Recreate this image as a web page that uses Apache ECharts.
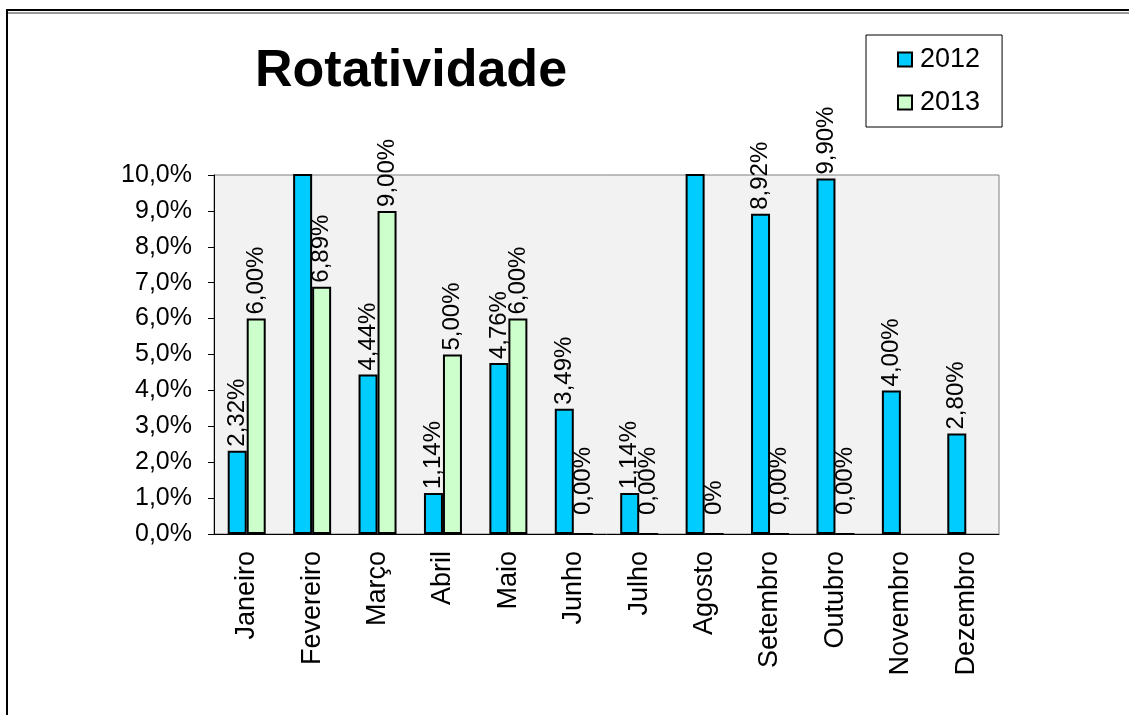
<!DOCTYPE html>
<html>
<head>
<meta charset="utf-8">
<script src="https://cdn.jsdelivr.net/npm/echarts@6/dist/echarts.min.js"></script>
<style>
html, body { margin: 0; padding: 0; background: #fff; }
#chart { width: 1129px; height: 715px; }
</style>
</head>
<body>
<div id="chart"></div>
<script>
var meses = ['Janeiro', 'Fevereiro', 'Março', 'Abril', 'Maio', 'Junho', 'Julho', 'Agosto', 'Setembro', 'Outubro', 'Novembro', 'Dezembro'];
// 2012: Fevereiro and Agosto run off the top of the axis, their labels are not shown
var v2012 = [2.32, 12.0, 4.44, 1.14, 4.76, 3.49, 1.14, 11.0, 8.92, 9.90, 4.00, 2.80];
var v2013 = [6.00, 6.89, 9.00, 5.00, 6.00, 0, 0, 0, 0, 0, null, null];
var rot2013 = ['6,00%', '6,89%', '9,00%', '5,00%', '6,00%', '0,00%', '0,00%', '0%', '0,00%', '0,00%', '', ''];
var yTicks = [0, 1, 2, 3, 4, 5, 6, 7, 8, 9, 10];

var yMax = 10;
var font = '"Liberation Sans", Arial, sans-serif';

function pct(v) {
  return v.toFixed(2).replace('.', ',') + '%';
}

var data2012 = v2012.map(function (v) {
  return { value: v, label: { show: v <= yMax } };
});
var data2013 = v2013.map(function (v, i) {
  if (v === null) return { value: null, label: { show: false } };
  return { value: v, label: { distance: v === 0 ? 18 : 4, formatter: rot2013[i] } };
});

var labelStyle = {
  show: true,
  position: 'top',
  rotate: 90,
  align: 'left',
  verticalAlign: 'middle',
  fontFamily: font,
  fontSize: 24,
  color: '#000',
  distance: 4
};

var chart = echarts.init(document.getElementById('chart'));

var option = {
  animation: false,
  backgroundColor: '#fff',
  title: {
    text: 'Rotatividade',
    left: 255,
    top: 46,
    padding: 0,
    textStyle: { fontFamily: font, fontSize: 52, fontWeight: 'bold', color: '#000' }
  },
  legend: {
    orient: 'vertical',
    left: 866,
    top: 35,
    padding: [11, 22, 11, 31],
    itemGap: 16,
    itemWidth: 14,
    itemHeight: 14,
    borderColor: '#000',
    borderWidth: 1,
    icon: 'rect',
    textStyle: { fontFamily: font, fontSize: 27, color: '#000', padding: [0, 0, 0, 3] },
    data: ['2012', '2013']
  },
  graphic: [
    { type: 'line', shape: { x1: 6, y1: 10, x2: 1129, y2: 10 }, style: { stroke: '#000', lineWidth: 2 } },
    { type: 'line', shape: { x1: 8, y1: 13, x2: 1129, y2: 13 }, style: { stroke: '#999', lineWidth: 2 } },
    { type: 'line', shape: { x1: 7, y1: 9, x2: 7, y2: 715 }, style: { stroke: '#000', lineWidth: 2 } }
  ],
  grid: {
    left: 214,
    right: 130,
    top: 175,
    bottom: 181,
    show: true,
    backgroundColor: '#f2f2f2',
    borderColor: '#808080',
    borderWidth: 1
  },
  xAxis: {
    type: 'category',
    data: meses,
    axisLine: { lineStyle: { color: '#000', width: 1 } },
    axisTick: { length: 6, lineStyle: { color: '#000' } },
    axisLabel: {
      rotate: 90,
      interval: 0,
      margin: 17,
      fontFamily: font,
      fontSize: 27,
      color: '#000'
    }
  },
  yAxis: {
    type: 'value',
    min: yTicks[0],
    max: yTicks[yTicks.length - 1],
    interval: 1,
    splitLine: { show: false },
    axisLine: { show: true, lineStyle: { color: '#000', width: 1 } },
    axisTick: { show: true, length: 6, lineStyle: { color: '#000' } },
    axisLabel: {
      margin: 22,
      fontFamily: font,
      fontSize: 25,
      color: '#000',
      formatter: function (v) { return v.toFixed(1).replace('.', ',') + '%'; }
    }
  },
  series: [
    {
      name: '2012',
      type: 'bar',
      barWidth: 19,
      barGap: '0%',
      data: data2012,
      itemStyle: { color: '#00ccff', borderColor: '#000', borderWidth: 2 },
      label: Object.assign({}, labelStyle, { formatter: function (p) { return pct(p.value); } })
    },
    {
      name: '2013',
      type: 'bar',
      barWidth: 19,
      barGap: '0%',
      data: data2013,
      itemStyle: { color: '#ccffcc', borderColor: '#000', borderWidth: 2 },
      label: labelStyle
    }
  ]
};

chart.setOption(option);
</script>
</body>
</html>
